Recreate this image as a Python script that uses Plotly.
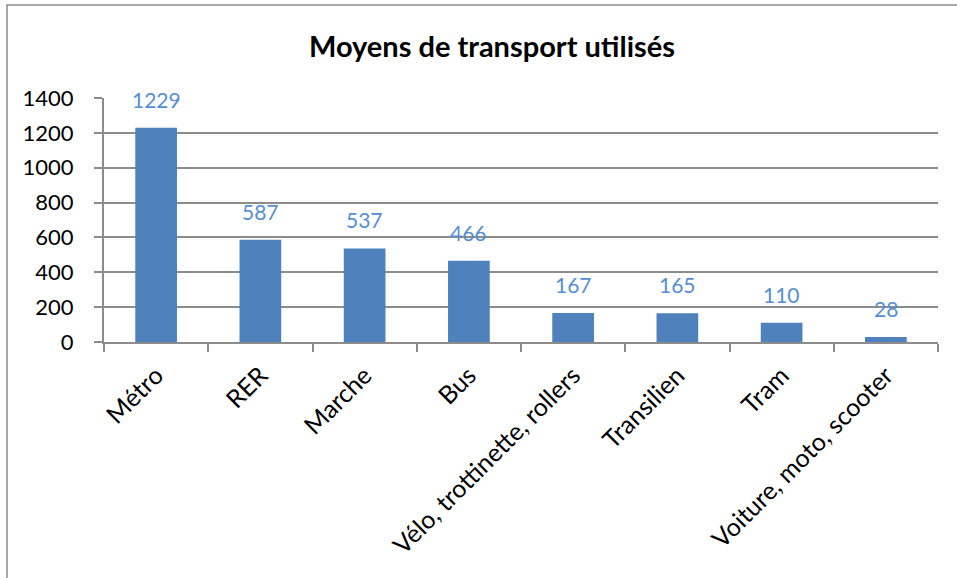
import plotly.graph_objects as go

categories = ["Métro", "RER", "Marche", "Bus", "Vélo, trottinette, rollers",
              "Transilien", "Tram", "Voiture, moto, scooter"]
values = [1229, 587, 537, 466, 167, 165, 110, 28]
y_ticks = [0, 200, 400, 600, 800, 1000, 1200, 1400]
title_text = "Moyens de transport utilisés"

BAR = "#4F81BD"
LABEL = "#558ED5"
GRID = "#8C8C8C"
FONT = "Lato"

W, H = 957, 578
ML, MR, MT, MB = 104, 19, 98, 236
pw = W - ML - MR
ph = H - MT - MB

fig = go.Figure()
fig.add_trace(go.Bar(x=categories, y=values, marker_color=BAR, width=0.4,
                     marker_line_width=0, hoverinfo="skip"))

for c, v in zip(categories, values):
    fig.add_annotation(x=c, y=v, text=str(v), showarrow=False, yanchor="bottom",
                       yshift=14, font=dict(family=FONT, size=21, color=LABEL))

# outer chart border (left and top visible)
fig.add_shape(type="rect", xref="paper", yref="paper",
              x0=(7 - ML) / pw, x1=(W + 20 - ML) / pw,
              y0=-(H + 20 - MT - ph) / ph, y1=(H - MB - 5) / ph,
              line=dict(color=GRID, width=1.5), fillcolor="rgba(0,0,0,0)", layer="below")

fig.update_layout(
    width=W, height=H,
    margin=dict(l=ML, r=MR, t=MT, b=MB, pad=0, autoexpand=False),
    paper_bgcolor="white", plot_bgcolor="white",
    showlegend=False,
    bargap=0.6,
    title=dict(text="<b>" + title_text + "</b>", x=492 / W, xanchor="center",
               y=1 - 47 / H, yanchor="middle", yref="container", xref="container",
               font=dict(family=FONT, size=29, color="black")),
    font=dict(family=FONT, color="black"),
)
fig.update_xaxes(
    type="category", showline=True, linecolor=GRID, linewidth=2, automargin=False,
    ticks="outside", tickson="boundaries", ticklen=8, tickcolor=GRID, tickwidth=2,
    tickangle=-45, tickfont=dict(family=FONT, size=25, color="black"),
    showgrid=False, ticklabelstandoff=7,
)
fig.update_yaxes(
    range=[0, 1400], tickvals=y_ticks, showline=True, linecolor=GRID, linewidth=2,
    automargin=False,
    ticks="outside", ticklen=8, tickcolor=GRID, tickwidth=2,
    showgrid=True, gridcolor=GRID, gridwidth=2, zeroline=False,
    tickfont=dict(family=FONT, size=22, color="black"), ticklabelstandoff=16,
)

fig.write_html("out.html", config={"displayModeBar": False, "staticPlot": True},
               post_script="document.body.style.margin='0';document.body.style.overflow='hidden';")
